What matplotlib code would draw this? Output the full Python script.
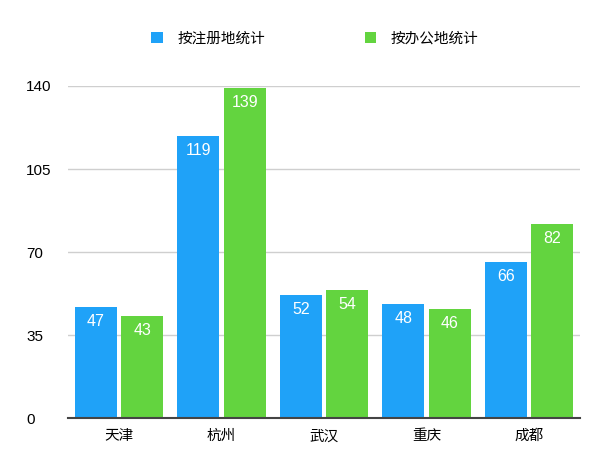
import numpy as np
import matplotlib.pyplot as plt

plt.rcParams['font.family'] = ['Noto Sans CJK SC', 'DejaVu Sans']

cities = ["天津", "杭州", "武汉", "重庆", "成都"]
by_reg = [47, 119, 52, 48, 66]
by_office = [43, 139, 54, 46, 82]
series_names = ["按注册地统计", "按办公地统计"]
yticks = [0, 35, 70, 105, 140]

blue = "#1fa2f8"
green = "#63d43f"
num_font = ["Liberation Sans", "DejaVu Sans"]

fig = plt.figure(figsize=(6, 4.55), dpi=100)
ax = fig.add_axes([0.113, 0.081, 0.854, 0.730])

x = np.arange(len(cities))
w = 0.41
b1 = ax.bar(x - 0.225, by_reg, w, color=blue, label=series_names[0])
b2 = ax.bar(x + 0.225, by_office, w, color=green, label=series_names[1])

for bars in (b1, b2):
    for r in bars:
        ax.text(r.get_x() + r.get_width() / 2, r.get_height() - 3, str(int(r.get_height())),
                ha="center", va="top", color="white", fontsize=11.5, family=num_font)

ax.set_xlim(-0.5, 4.5)
ax.set_ylim(0, 140)
ax.set_yticks(yticks)
ax.set_xticks(x)
ax.set_xticklabels(cities, fontsize=10.5)
ax.tick_params(axis="y", labelsize=11, length=0, pad=30)
ax.tick_params(axis="x", length=0, pad=8)
for lab in ax.get_yticklabels():
    lab.set_horizontalalignment("left")
    lab.set_family(num_font)

ax.grid(axis="y", color="#cfcfcf", linewidth=1)
ax.set_axisbelow(True)
for s in ["top", "right", "left"]:
    ax.spines[s].set_visible(False)
ax.spines["bottom"].set_color("#444444")
ax.spines["bottom"].set_linewidth(1.5)

fig.legend(loc="upper center", bbox_to_anchor=(0.525, 0.96), ncol=2, frameon=False,
           fontsize=10.5, handlelength=0.8, handleheight=0.8, columnspacing=6.8, handletextpad=1.0)

fig.savefig("out.png", dpi=100)
